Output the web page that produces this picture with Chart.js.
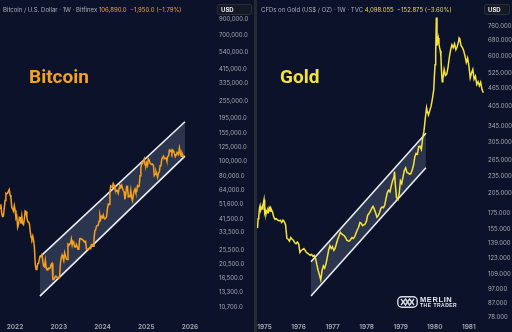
<!DOCTYPE html>
<html><head><meta charset="utf-8">
<script src="https://cdn.jsdelivr.net/npm/chart.js@4.4.1/dist/chart.umd.min.js"></script>
<style>
html,body{margin:0;padding:0;background:#262a33;width:512px;height:332px;overflow:hidden;}
#wrap{position:relative;width:512px;height:332px;}
canvas{position:absolute;top:0;background:#0b1229;}
.t{position:absolute;white-space:nowrap;font-family:Inter,"Noto Sans",sans-serif;line-height:8px;}
.hdr{font-size:6px;color:#a9adb7;top:6px;}
.usd{position:absolute;top:4px;height:11px;background:#151923;border:1px solid #2a2e39;border-radius:2px;box-sizing:border-box;}
.usd span{position:absolute;left:3px;top:1px;font-family:Inter,sans-serif;font-size:6px;font-weight:700;color:#e6e8ee;line-height:8px;}
.big{position:absolute;font-family:Roboto,"Liberation Sans",sans-serif;font-weight:700;font-size:19px;line-height:19px;white-space:nowrap;}
</style></head>
<body><div id="wrap">
<canvas id="cL" width="254" height="332" style="left:0"></canvas>
<canvas id="cR" width="255" height="332" style="left:257px"></canvas>
<div class="t hdr" style="left:3px">Bitcoin / U.S. Dollar · 1W · Bitfinex <span style="color:#eda43c">106,890.0 &nbsp;−1,950.0 (−1.79%)</span></div>
<div class="t hdr" style="left:261px">CFDs on Gold (US$ / OZ) · 1W · TVC <span style="color:#e9dc4c">4,098.055 &nbsp;−152.875 (−3.60%)</span></div>
<div class="usd" style="left:217px;width:35px"><span>USD</span></div>
<div class="usd" style="left:484px;width:26px"><span>USD</span></div>
<div class="big" style="left:29px;top:67px;color:#f5a11f">Bitcoin</div>
<div class="big" style="left:280px;top:67px;color:#f4e33c">Gold</div>
<div style="position:absolute;left:397px;top:295px;width:75px;height:14px">
<svg width="21" height="12" viewBox="0 0 21 12" style="position:absolute;left:0;top:1px">
<rect x="0.8" y="0.8" width="19.4" height="10.4" rx="4" fill="none" stroke="#d8dbe2" stroke-width="1.4"/>
<path d="M4 3 L8.5 9 L10.5 6 L12.5 9 L17 3" fill="none" stroke="#d8dbe2" stroke-width="1.4"/>
<path d="M4 9 L8.5 3 L10.5 6 L12.5 3 L17 9" fill="none" stroke="#d8dbe2" stroke-width="1.4"/>
</svg>
<div style="position:absolute;left:23px;top:1px;font-family:'Liberation Sans',sans-serif;font-weight:700;font-size:7.5px;line-height:7px;color:#e4e6ec;letter-spacing:0.6px">MERLIN</div>
<div style="position:absolute;left:23px;top:7.5px;font-family:'Liberation Sans',sans-serif;font-weight:700;font-size:5px;line-height:5px;color:#e4e6ec;letter-spacing:0.5px">THE TRADER</div>
</div>
</div>
<script>
// ---------- DATA ----------
const btcDates = ['2021-08-29','2021-09-05','2021-09-12','2021-09-19','2021-09-26','2021-10-03','2021-10-10','2021-10-17','2021-10-24','2021-10-31','2021-11-07','2021-11-14','2021-11-21','2021-11-28','2021-12-05','2021-12-12','2021-12-19','2021-12-26',
'2022-01-02','2022-01-09','2022-01-16','2022-01-23','2022-01-30','2022-02-06','2022-02-13','2022-02-20','2022-02-27','2022-03-06','2022-03-13','2022-03-20','2022-03-27','2022-04-03','2022-04-10','2022-04-17','2022-04-24','2022-05-01','2022-05-08','2022-05-15','2022-05-22','2022-05-29','2022-06-05','2022-06-12','2022-06-19','2022-06-26','2022-07-03','2022-07-10','2022-07-17','2022-07-24','2022-07-31','2022-08-07','2022-08-14','2022-08-21','2022-08-28','2022-09-04','2022-09-11','2022-09-18','2022-09-25','2022-10-02','2022-10-09','2022-10-16','2022-10-23','2022-10-30','2022-11-06','2022-11-13','2022-11-20','2022-11-27','2022-12-04','2022-12-11','2022-12-18','2022-12-25',
'2023-01-01','2023-01-08','2023-01-15','2023-01-22','2023-01-29','2023-02-05','2023-02-12','2023-02-19','2023-02-26','2023-03-05','2023-03-12','2023-03-19','2023-03-26','2023-04-02','2023-04-09','2023-04-16','2023-04-23','2023-04-30','2023-05-07','2023-05-14','2023-05-21','2023-05-28','2023-06-04','2023-06-11','2023-06-18','2023-06-25','2023-07-02','2023-07-09','2023-07-16','2023-07-23','2023-07-30','2023-08-06','2023-08-13','2023-08-20','2023-08-27','2023-09-03','2023-09-10','2023-09-17','2023-09-24','2023-10-01','2023-10-08','2023-10-15','2023-10-22','2023-10-29','2023-11-05','2023-11-12','2023-11-19','2023-11-26','2023-12-03','2023-12-10','2023-12-17','2023-12-24','2023-12-31',
'2024-01-07','2024-01-14','2024-01-21','2024-01-28','2024-02-04','2024-02-11','2024-02-18','2024-02-25','2024-03-03','2024-03-10','2024-03-17','2024-03-24','2024-03-31','2024-04-07','2024-04-14','2024-04-21','2024-04-28','2024-05-05','2024-05-12','2024-05-19','2024-05-26','2024-06-02','2024-06-09','2024-06-16','2024-06-23','2024-06-30','2024-07-07','2024-07-14','2024-07-21','2024-07-28','2024-08-04','2024-08-11','2024-08-18','2024-08-25','2024-09-01','2024-09-08','2024-09-15','2024-09-22','2024-09-29','2024-10-06','2024-10-13','2024-10-20','2024-10-27','2024-11-03','2024-11-10','2024-11-17','2024-11-24','2024-12-01','2024-12-08','2024-12-15','2024-12-22','2024-12-29',
'2025-01-05','2025-01-12','2025-01-19','2025-01-26','2025-02-02','2025-02-09','2025-02-16','2025-02-23','2025-03-02','2025-03-09','2025-03-16','2025-03-23','2025-03-30','2025-04-06','2025-04-13','2025-04-20','2025-04-27','2025-05-04','2025-05-11','2025-05-18','2025-05-25','2025-06-01','2025-06-08','2025-06-15','2025-06-22','2025-06-29','2025-07-06','2025-07-13','2025-07-20','2025-07-27','2025-08-03','2025-08-10','2025-08-17','2025-08-24','2025-08-31','2025-09-07','2025-09-14','2025-09-21','2025-09-28','2025-10-05','2025-10-12','2025-10-19','2025-10-26','2025-11-02','2025-11-09'];
const btcClose = [48800,51800,45000,43000,43200,48200,55000,61500,60900,61300,63300,65000,59700,57200,49400,48400,46700,50800,
47300,41900,43100,36300,37900,42400,42200,38400,43200,38400,37800,41300,46800,46400,42200,39700,39500,38500,34100,31300,30300,31800,29900,26600,20600,19000,19300,20800,20800,22600,23300,23200,24300,21500,20000,19800,21800,19400,18800,19300,19400,19200,19600,20600,20900,16300,16300,16500,17100,17100,16800,16800,
16600,17100,20900,22700,23700,22900,21800,24600,23500,22400,22100,28000,27500,28200,28300,30300,27600,29200,28400,26900,26800,28000,27100,25900,26300,30500,30600,30200,30200,29800,29300,29100,29300,26000,26000,25800,25800,26500,26200,27900,27900,27200,30000,34500,35000,37000,37400,37400,39900,43800,41300,43000,42200,
44000,41800,41600,42000,42600,48300,52000,51700,63000,68900,68400,67200,71300,69400,65700,64900,63400,64000,61500,66300,69300,67800,69600,66200,64300,62700,55800,60800,68200,68300,58100,58700,58400,64200,57300,54900,59900,63600,65600,62100,62900,69000,68000,68700,80400,90500,97700,97200,101100,104400,95100,93700,
98300,94500,104600,102600,97700,96500,96100,96300,94200,80700,82600,86000,82400,78400,83700,85200,93700,94300,104100,106500,109000,104600,105700,105500,100900,108400,109200,119100,117300,119400,114200,119300,117400,113500,108200,111100,115300,115200,112200,123500,115300,108600,114500,110600,106890];
const btcChannelDates = ['2022-07-28','2025-11-20'];
const btcChannelUpper = [23060,184800];
const btcChannelLower = [12590,108900];
const btcPriceTicks = [900000,700000,540000,415000,335000,255000,195000,155000,125000,100000,80000,64000,51600,41500,33500,25500,20500,16500,13300,10700];
const btcYearTicks = [2022,2023,2024,2025,2026];

const goldDates = ['1974-10-18','1974-10-25','1974-11-01','1974-11-08','1974-11-15','1974-11-22','1974-11-29','1974-12-06','1974-12-13','1974-12-20','1974-12-27',
'1975-01-03','1975-01-10','1975-01-17','1975-01-24','1975-01-31','1975-02-07','1975-02-14','1975-02-21','1975-02-28','1975-03-07','1975-03-14','1975-03-21','1975-03-28','1975-04-11','1975-04-25','1975-05-09','1975-05-23','1975-06-06','1975-06-20','1975-07-04','1975-07-18','1975-08-01','1975-08-15','1975-08-29','1975-09-12','1975-09-26','1975-10-10','1975-10-24','1975-11-07','1975-11-21','1975-12-05','1975-12-19',
'1976-01-02','1976-01-16','1976-01-30','1976-02-13','1976-02-27','1976-03-12','1976-03-26','1976-04-09','1976-04-23','1976-05-07','1976-05-21','1976-06-04','1976-06-18','1976-07-02','1976-07-16','1976-07-30','1976-08-13','1976-08-27','1976-09-10','1976-09-24','1976-10-08','1976-10-22','1976-11-05','1976-11-19','1976-12-03','1976-12-17','1976-12-31',
'1977-01-14','1977-01-28','1977-02-11','1977-02-25','1977-03-11','1977-03-25','1977-04-08','1977-04-22','1977-05-06','1977-05-20','1977-06-03','1977-06-17','1977-07-01','1977-07-15','1977-07-29','1977-08-12','1977-08-26','1977-09-09','1977-09-23','1977-10-07','1977-10-21','1977-11-04','1977-11-18','1977-12-02','1977-12-16','1977-12-30',
'1978-01-13','1978-01-27','1978-02-10','1978-02-24','1978-03-10','1978-03-24','1978-04-07','1978-04-21','1978-05-05','1978-05-19','1978-06-02','1978-06-16','1978-06-30','1978-07-14','1978-07-28','1978-08-11','1978-08-25','1978-09-08','1978-09-22','1978-10-06','1978-10-20','1978-10-27','1978-11-03','1978-11-17','1978-12-01','1978-12-15','1978-12-29',
'1979-01-12','1979-01-26','1979-02-09','1979-02-23','1979-03-09','1979-03-23','1979-04-06','1979-04-20','1979-05-04','1979-05-18','1979-06-01','1979-06-15','1979-06-29','1979-07-13','1979-07-27','1979-08-10','1979-08-24','1979-09-07','1979-09-21','1979-10-05','1979-10-12','1979-10-26','1979-11-09','1979-11-23','1979-12-07','1979-12-21','1979-12-28',
'1980-01-04','1980-01-11','1980-01-18','1980-01-25','1980-02-01','1980-02-08','1980-02-15','1980-02-22','1980-02-29','1980-03-07','1980-03-14','1980-03-21','1980-03-28','1980-04-11','1980-04-25','1980-05-09','1980-05-23','1980-06-06','1980-06-20','1980-07-04','1980-07-18','1980-08-01','1980-08-15','1980-08-29','1980-09-12','1980-09-19','1980-09-26','1980-10-10','1980-10-24','1980-11-07','1980-11-21','1980-12-05','1980-12-19',
'1981-01-02','1981-01-16','1981-01-30','1981-02-13','1981-02-27','1981-03-13','1981-03-27','1981-04-10','1981-04-24','1981-05-08','1981-05-22','1981-06-05'];
const goldClose = [156,168,171,182,186,180,183,181,186,190,195,
176,179,174,178,176,180,178,183,181,183,178,179,177,170,167,168,166,165,166,163,166,164,160,144,143,141,145,143,142,139,138,140,
138,129,131,132,133,131,129,128,127,126,127,125,126,123,117,112,108,104,112,116,114,118,124,131,136,133,135,
131,133,138,143,147,151,149,148,147,145,142,141,141,143,145,144,146,150,154,157,163,162,159,160,161,165,
173,175,178,182,185,181,176,170,172,176,182,184,183,187,197,206,210,207,217,226,232,243,222,198,195,203,226,
221,233,245,250,241,240,238,239,246,255,272,280,278,295,296,289,315,333,366,400,390,378,392,405,430,460,512,
560,610,810,650,670,690,660,640,625,600,530,490,500,540,515,520,550,595,630,655,640,660,630,645,670,690,683,650,640,625,600,570,590,
555,505,525,540,500,512,480,490,475,488,462,450];
const goldChannelDates = ['1976-05-14','1979-09-28'];
const goldChannelUpper = [119.9,327.5];
const goldChannelLower = [91.7,250.2];
const goldPriceTicks = [760,680,600,525,465,405,345,305,265,235,205,175,155,139,123,109,97,87,78];
const goldYearTicks = [1975,1976,1977,1978,1979,1980,1981];

// ---------- helpers ----------
function fy(s){const [y,m,d]=s.split('-').map(Number);const t=Date.UTC(y,m-1,d),a=Date.UTC(y,0,1),b=Date.UTC(y+1,0,1);return y+(t-a)/(b-a);}
function pts(dates,vals){return dates.map((d,i)=>({x:fy(d),y:vals[i]}));}
const AXIS_COLOR='#a4a8b2';
const FONT='Inter, "Noto Sans", sans-serif';

function build(canvas, o){
  return new Chart(canvas,{
    type:'line',
    data:{datasets:[
      {data:pts(o.dates,o.vals),borderColor:o.color,borderWidth:1.5,pointRadius:0,tension:0,fill:false,order:0},
      {data:pts(o.chDates,o.chUp),borderColor:'#eceef4',borderWidth:1.6,pointRadius:0,fill:false,order:1},
      {data:pts(o.chDates,o.chLo),borderColor:'#eceef4',borderWidth:1.6,pointRadius:0,fill:{target:1},backgroundColor:'rgba(150,162,195,0.24)',order:1}
    ]},
    options:{
      responsive:false,animation:false,maintainAspectRatio:false,
      layout:{padding:0},
      plugins:{legend:{display:false},tooltip:{enabled:false}},
      scales:{
        x:{type:'linear',min:o.xMin,max:o.xMax,
          grid:{display:false,drawTicks:false},border:{display:false},
          ticks:{color:AXIS_COLOR,font:{family:FONT,size:6.5,weight:'600'},padding:3,autoSkip:false,maxRotation:0,callback:v=>String(v)},
          afterBuildTicks:s=>{s.ticks=o.yearTicks.map(v=>({value:v}));},
          afterFit:s=>{s.height=12;s.paddingLeft=0;s.paddingRight=0;}
        },
        y:{type:'logarithmic',position:'right',min:o.yMin,max:o.yMax,
          grid:{display:false,drawTicks:false},border:{display:false},
          ticks:{color:AXIS_COLOR,font:{family:FONT,size:6},padding:o.lblPad,autoSkip:false,callback:o.fmt},
          afterBuildTicks:s=>{s.ticks=o.priceTicks.map(v=>({value:v}));},
          afterFit:s=>{s.width=o.axisW;s.paddingTop=0;s.paddingBottom=0;}
        }
      }
    }
  });
}

build(document.getElementById('cL'),{
  dates:btcDates,vals:btcClose,color:'#f5a01e',
  chDates:btcChannelDates,chUp:btcChannelUpper,chLo:btcChannelLower,
  xMin:2021.657,xMax:2026.549,yMin:8719,yMax:1206000,
  priceTicks:btcPriceTicks,yearTicks:btcYearTicks,axisW:40,lblPad:5,
  fmt:v=>Number(v).toLocaleString('en-US',{minimumFractionDigits:1,maximumFractionDigits:1})
});
build(document.getElementById('cR'),{
  dates:goldDates,vals:goldClose,color:'#f5e33b',
  chDates:goldChannelDates,chUp:goldChannelUpper,chLo:goldChannelLower,
  xMin:1974.78,xMax:1981.446,yMin:76.03,yMax:929.3,
  priceTicks:goldPriceTicks,yearTicks:goldYearTicks,axisW:28,lblPad:4,
  fmt:v=>Number(v).toFixed(3)
});
</script>
</body></html>
